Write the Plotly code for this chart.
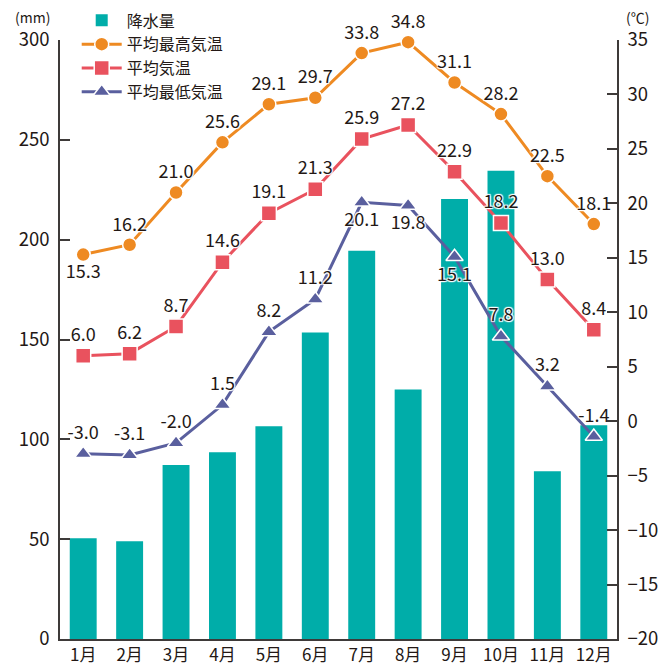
import plotly.graph_objects as go

months = ["1月", "2月", "3月", "4月", "5月", "6月", "7月", "8月", "9月", "10月", "11月", "12月"]
precip = [50.5, 49.0, 87.2, 93.5, 106.5, 153.5, 194.5, 125.0, 220.4, 234.5, 84.0, 107.0]
t_max = [15.3, 16.2, 21.0, 25.6, 29.1, 29.7, 33.8, 34.8, 31.1, 28.2, 22.5, 18.1]
t_mean = [6.0, 6.2, 8.7, 14.6, 19.1, 21.3, 25.9, 27.2, 22.9, 18.2, 13.0, 8.4]
t_min = [-3.0, -3.1, -2.0, 1.5, 8.2, 11.2, 20.1, 19.8, 15.1, 7.8, 3.2, -1.4]
left_ticks = [0, 50, 100, 150, 200, 250, 300]
right_ticks = [-20, -15, -10, -5, 0, 5, 10, 15, 20, 25, 30, 35]

pos_max = ["bottom center"] + ["top center"] * 11
pos_mean = ["top center"] * 12
pos_min = ["top center"] * 6 + ["bottom center"] * 3 + ["top center"] * 3

FONT = "Noto Sans CJK JP"
TXT = "#231815"
shadow = "1px 1px 1px #fff, -1px -1px 1px #fff, 1px -1px 1px #fff, -1px 1px 1px #fff, 0 0 2px #fff"

fig = go.Figure()
fig.add_trace(go.Bar(x=months, y=precip, name="降水量", marker=dict(color="#00ADA9", line_width=0),
                     width=0.58, yaxis="y"))

def line(vals, name, color, symbol, size, pos):
    return go.Scatter(
        x=months, y=vals, name=name, yaxis="y2", mode="lines+markers+text",
        line=dict(color=color, width=3),
        marker=dict(symbol=symbol, size=size, color=color, line=dict(color="white", width=1.5)),
        text=[f"{v:.1f}" for v in vals], textposition=pos, cliponaxis=False,
        textfont=dict(family=FONT, size=18, color=TXT, shadow=shadow),
    )

fig.add_trace(line(t_max, "平均最高気温", "#EE8A22", "circle", 14, pos_max))
fig.add_trace(line(t_mean, "平均気温", "#E9525E", "square", 15, pos_mean))
fig.add_trace(line(t_min, "平均最低気温", "#5A5F9E", "triangle-up", 15, pos_min))

axis_common = dict(showgrid=False, zeroline=False, showline=True, linecolor="#3E3A39", linewidth=1.5,
                   ticks="inside", ticklen=10, tickcolor="#3E3A39", tickwidth=1.5,
                   ticklabelstandoff=5,
                   tickfont=dict(family=FONT, size=18.5, color=TXT))

fig.update_layout(
    width=671, height=666,
    margin=dict(l=52, r=62, t=32, b=35, autoexpand=False),
    paper_bgcolor="white", plot_bgcolor="white",
    font=dict(family=FONT, color=TXT),
    showlegend=True,
    legend=dict(x=0.03, y=1.061, xanchor="left", yanchor="top",
                bgcolor="rgba(0,0,0,0)", font=dict(family=FONT, size=16, color=TXT),
                tracegroupgap=0, itemwidth=40),
    xaxis=dict(showgrid=False, zeroline=False, showline=True, linecolor="#3E3A39", linewidth=1.5,
               ticks="", tickfont=dict(family=FONT, size=17, color=TXT), range=[-0.5, 11.5]),
    yaxis=dict(range=[0, 300], tickvals=left_ticks, **axis_common),
    yaxis2=dict(range=[-20, 35], tickvals=right_ticks, overlaying="y", side="right", **axis_common),
    annotations=[
        dict(text="(mm)", x=-0.05, y=1.0195, xref="paper", yref="paper", xanchor="center",
             yanchor="bottom", borderpad=0, showarrow=False,
             font=dict(family=FONT, size=14, color=TXT)),
        dict(text="(℃)", x=1.036, y=1.0195, xref="paper", yref="paper", xanchor="center",
             yanchor="bottom", borderpad=0, showarrow=False,
             font=dict(family=FONT, size=14, color=TXT)),
    ],
)

fig.write_html("out.html")
